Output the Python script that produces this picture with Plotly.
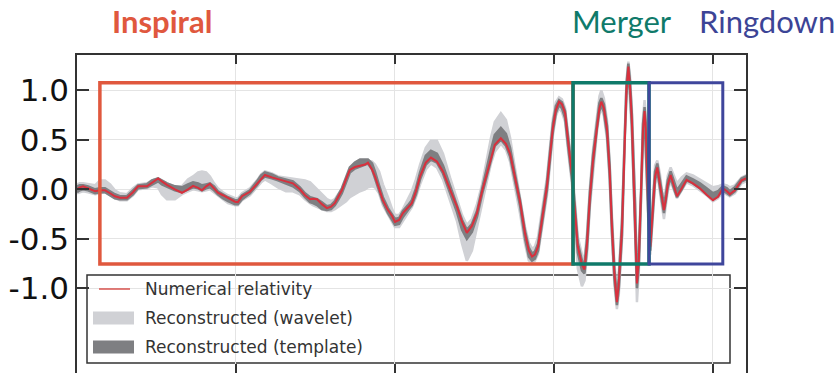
import plotly.graph_objects as go

# Time samples (s) and strain (10^-21) of the GW150914 waveform
t = [0.2500, 0.2509, 0.2519, 0.2535, 0.2557, 0.2572, 0.2588, 0.2604, 0.2619, 0.2635,
     0.2657, 0.2676, 0.2692, 0.2720, 0.2736, 0.2755, 0.2767, 0.2783, 0.2808, 0.2830,
     0.2849, 0.2865, 0.2881, 0.2893, 0.2906, 0.2918, 0.2931, 0.2943, 0.2959, 0.2975,
     0.2997, 0.3006, 0.3019, 0.3044, 0.3066, 0.3079, 0.3091, 0.3113, 0.3132, 0.3157,
     0.3179, 0.3201, 0.3217, 0.3233, 0.3242, 0.3255, 0.3270, 0.3286, 0.3299, 0.3311,
     0.3321, 0.3333, 0.3346, 0.3358, 0.3374, 0.3390, 0.3406, 0.3415, 0.3428, 0.3437,
     0.3450, 0.3462, 0.3478, 0.3491, 0.3500, 0.3513, 0.3525, 0.3541, 0.3553, 0.3566,
     0.3579, 0.3597, 0.3613, 0.3632, 0.3651, 0.3673, 0.3695, 0.3711, 0.3726, 0.3742,
     0.3758, 0.3774, 0.3789, 0.3802, 0.3814, 0.3833, 0.3849, 0.3862, 0.3877, 0.3893,
     0.3909, 0.3921, 0.3931, 0.3940, 0.3950, 0.3962, 0.3978, 0.3991, 0.3997, 0.4006,
     0.4016, 0.4025, 0.4035, 0.4044, 0.4057, 0.4066, 0.4075, 0.4088, 0.4096, 0.4104,
     0.4113, 0.4123, 0.4135, 0.4143, 0.4149, 0.4157, 0.4167, 0.4175, 0.4182, 0.4190,
     0.4198, 0.4204, 0.4214, 0.4223, 0.4228, 0.4234, 0.4239, 0.4245, 0.4255, 0.4261,
     0.4267, 0.4274, 0.4280, 0.4285, 0.4289, 0.4296, 0.4303, 0.4311, 0.4318, 0.4325,
     0.4333, 0.4340, 0.4346, 0.4352, 0.4358, 0.4367, 0.4375, 0.4387, 0.4402, 0.4417,
     0.4437, 0.4459, 0.4480, 0.4500, 0.4516, 0.4531, 0.4544, 0.4553, 0.4569, 0.4590,
     0.4604]

numerical_relativity = [
    0.00, 0.02, 0.03, 0.01, -0.02, -0.01, -0.01, -0.04, -0.07, -0.085,
    -0.085, -0.03, 0.03, 0.03, 0.07, 0.11, 0.08, 0.045, 0.00, -0.035,
    0.00, 0.035, 0.015, -0.01, 0.03, 0.055, 0.01, -0.035, -0.06, -0.09,
    -0.125, -0.13, -0.07, -0.025, 0.06, 0.11, 0.145, 0.12, 0.10, 0.08,
    0.06, 0.00, -0.06, -0.10, -0.095, -0.10, -0.15, -0.19, -0.175, -0.14,
    -0.08, -0.01, 0.10, 0.195, 0.225, 0.235, 0.25, 0.27, 0.20, 0.13,
    0.01, -0.11, -0.21, -0.27, -0.33, -0.31, -0.24, -0.18, -0.14, -0.02,
    0.13, 0.27, 0.32, 0.28, 0.18, 0.00, -0.175, -0.33, -0.44, -0.37,
    -0.24, -0.02, 0.16, 0.32, 0.45, 0.515, 0.46, 0.36, 0.12, -0.12,
    -0.445, -0.62, -0.68, -0.66, -0.58, -0.32, 0.03, 0.45, 0.63, 0.80,
    0.885, 0.86, 0.77, 0.50, 0.13, -0.22, -0.58, -0.76, -0.81, -0.55,
    -0.08, 0.30, 0.65, 0.82, 0.885, 0.82, 0.60, 0.20, -0.35, -0.85,
    -1.14, -0.95, -0.40, 0.63, 1.00, 1.24, 1.05, 0.70, -0.21, -0.95,
    -0.70, -0.10, 0.60, 0.79, 0.60, -0.15, -0.58, -0.20, 0.13, 0.22,
    0.06, -0.10, -0.21, -0.10, 0.05, 0.145, 0.05, -0.07, 0.01, 0.095,
    0.06, 0.01, -0.055, -0.11, -0.075, 0.01, -0.02, -0.05, -0.01, 0.09,
    0.11]

template_low = [
    -0.03, -0.01, 0.00, -0.01, -0.04, -0.03, -0.03, -0.06, -0.09, -0.10,
    -0.10, -0.05, 0.01, 0.02, 0.05, 0.08, 0.05, 0.03, -0.01, -0.03,
    0.00, 0.02, 0.01, -0.01, 0.01, 0.02, -0.01, -0.05, -0.09, -0.12,
    -0.15, -0.15, -0.10, -0.04, 0.04, 0.10, 0.13, 0.11, 0.09, 0.06,
    0.03, -0.02, -0.08, -0.13, -0.14, -0.16, -0.20, -0.21, -0.20, -0.16,
    -0.11, -0.04, 0.07, 0.17, 0.21, 0.23, 0.25, 0.26, 0.20, 0.12,
    -0.01, -0.13, -0.24, -0.31, -0.36, -0.35, -0.28, -0.21, -0.16, -0.05,
    0.10, 0.25, 0.30, 0.27, 0.16, -0.03, -0.23, -0.41, -0.50, -0.43,
    -0.28, -0.05, 0.13, 0.30, 0.44, 0.50, 0.44, 0.33, 0.09, -0.16,
    -0.50, -0.68, -0.72, -0.70, -0.62, -0.36, -0.01, 0.41, 0.59, 0.77,
    0.85, 0.82, 0.72, 0.45, 0.09, -0.27, -0.64, -0.82, -0.85, -0.60,
    -0.13, 0.25, 0.61, 0.79, 0.85, 0.78, 0.55, 0.15, -0.40, -0.90,
    -1.17, -1.00, -0.46, 0.57, 0.95, 1.19, 1.00, 0.64, -0.28, -1.00,
    -0.76, -0.16, 0.54, 0.74, 0.54, -0.21, -0.62, -0.25, 0.09, 0.19,
    0.03, -0.13, -0.24, -0.13, 0.02, 0.12, 0.03, -0.08, 0.00, 0.09,
    0.06, 0.01, -0.05, -0.10, -0.07, -0.01, -0.04, -0.06, -0.02, 0.08,
    0.10]

template_high = [
    0.03, 0.04, 0.04, 0.03, 0.00, 0.01, 0.01, -0.02, -0.05, -0.07,
    -0.07, -0.01, 0.04, 0.05, 0.09, 0.11, 0.09, 0.06, 0.03, 0.02,
    0.05, 0.07, 0.06, 0.04, 0.05, 0.06, 0.03, -0.02, -0.05, -0.08,
    -0.11, -0.11, -0.06, -0.01, 0.08, 0.14, 0.17, 0.15, 0.12, 0.10,
    0.08, 0.02, -0.04, -0.08, -0.09, -0.10, -0.13, -0.17, -0.16, -0.12,
    -0.06, 0.01, 0.12, 0.22, 0.27, 0.30, 0.30, 0.30, 0.26, 0.18,
    0.04, -0.08, -0.19, -0.25, -0.30, -0.29, -0.22, -0.16, -0.11, 0.01,
    0.17, 0.34, 0.39, 0.36, 0.24, 0.04, -0.16, -0.31, -0.41, -0.35,
    -0.22, 0.01, 0.21, 0.40, 0.55, 0.62, 0.56, 0.42, 0.16, -0.10,
    -0.42, -0.59, -0.65, -0.63, -0.55, -0.29, 0.07, 0.49, 0.67, 0.84,
    0.90, 0.88, 0.79, 0.54, 0.17, -0.18, -0.54, -0.72, -0.76, -0.50,
    -0.03, 0.35, 0.70, 0.87, 0.92, 0.86, 0.64, 0.25, -0.30, -0.80,
    -1.09, -0.90, -0.34, 0.69, 1.05, 1.27, 1.10, 0.76, -0.14, -0.90,
    -0.64, -0.04, 0.66, 0.83, 0.66, -0.09, -0.53, -0.15, 0.18, 0.26,
    0.10, -0.06, -0.16, -0.05, 0.09, 0.18, 0.10, -0.01, 0.06, 0.13,
    0.10, 0.06, 0.01, -0.04, -0.02, 0.03, 0.01, -0.02, 0.02, 0.11,
    0.13]

wavelet_low = [
    -0.04, -0.03, -0.02, -0.03, -0.05, -0.04, -0.03, -0.06, -0.09, -0.11,
    -0.11, -0.06, 0.00, 0.01, 0.03, 0.02, -0.05, -0.10, -0.10, -0.05,
    -0.02, 0.00, -0.01, -0.02, -0.01, 0.00, -0.03, -0.06, -0.10, -0.14,
    -0.16, -0.16, -0.11, -0.06, 0.02, 0.07, 0.10, 0.06, 0.02, -0.02,
    -0.02, -0.05, -0.10, -0.14, -0.16, -0.18, -0.20, -0.22, -0.22, -0.20,
    -0.18, -0.15, -0.12, -0.08, -0.05, -0.02, 0.00, 0.02, 0.03, 0.02,
    -0.04, -0.16, -0.26, -0.33, -0.38, -0.38, -0.32, -0.24, -0.18, -0.08,
    0.05, 0.20, 0.26, 0.22, 0.10, -0.10, -0.32, -0.55, -0.72, -0.62,
    -0.40, -0.14, 0.08, 0.26, 0.38, 0.46, 0.40, 0.28, 0.02, -0.24,
    -0.55, -0.72, -0.74, -0.72, -0.65, -0.40, -0.06, 0.36, 0.55, 0.74,
    0.82, 0.78, 0.68, 0.40, 0.04, -0.33, -0.80, -0.98, -0.92, -0.66,
    -0.18, 0.20, 0.57, 0.76, 0.82, 0.74, 0.50, 0.10, -0.46, -0.96,
    -1.21, -1.06, -0.52, 0.51, 0.90, 1.15, 0.95, 0.58, -0.35, -1.14,
    -0.82, -0.22, 0.48, 0.70, 0.48, -0.27, -0.66, -0.30, 0.05, 0.16,
    0.00, -0.18, -0.30, -0.18, -0.02, 0.09, 0.01, -0.09, -0.01, 0.07,
    0.04, -0.01, -0.06, -0.12, -0.09, -0.03, -0.05, -0.07, -0.04, 0.06,
    0.08]

wavelet_high = [
    0.05, 0.06, 0.06, 0.05, 0.04, 0.09, 0.09, 0.05, -0.01, -0.04,
    -0.05, 0.01, 0.05, 0.06, 0.09, 0.11, 0.09, 0.06, 0.03, 0.03,
    0.10, 0.13, 0.17, 0.18, 0.17, 0.13, 0.06, 0.01, -0.03, -0.06,
    -0.09, -0.09, -0.04, 0.01, 0.09, 0.15, 0.18, 0.16, 0.13, 0.12,
    0.11, 0.10, 0.09, 0.07, 0.04, 0.00, -0.05, -0.10, -0.12, -0.10,
    -0.05, 0.00, 0.08, 0.15, 0.22, 0.27, 0.29, 0.29, 0.28, 0.25,
    0.18, 0.05, -0.08, -0.20, -0.26, -0.26, -0.20, -0.10, -0.02, 0.10,
    0.25, 0.42, 0.49, 0.49, 0.36, 0.12, -0.10, -0.26, -0.36, -0.30,
    -0.15, 0.05, 0.30, 0.52, 0.68, 0.77, 0.70, 0.52, 0.22, -0.06,
    -0.38, -0.54, -0.60, -0.58, -0.48, -0.22, 0.12, 0.54, 0.72, 0.88,
    0.93, 0.91, 0.82, 0.58, 0.22, -0.12, -0.48, -0.66, -0.70, -0.44,
    0.02, 0.40, 0.76, 0.94, 1.00, 0.92, 0.69, 0.30, -0.24, -0.74,
    -1.04, -0.84, -0.28, 0.75, 1.10, 1.29, 1.15, 0.82, -0.07, -0.85,
    -0.58, 0.02, 0.72, 0.90, 0.72, -0.03, -0.47, -0.10, 0.24, 0.29,
    0.16, -0.02, -0.10, 0.00, 0.14, 0.22, 0.15, 0.06, 0.12, 0.16,
    0.14, 0.10, 0.06, 0.02, 0.03, 0.05, 0.04, 0.02, 0.04, 0.12,
    0.14]

# Phase boundaries (s) and box extent in strain
inspiral_span = [0.2572, 0.4060]
merger_span = [0.4060, 0.4299]
ringdown_span = [0.4299, 0.4531]
box_strain = [-0.755, 1.077]

x_ticks = [0.30, 0.35, 0.40, 0.45]
y_ticks = [-1.0, -0.5, 0.0, 0.5, 1.0]
y_tick_labels = ["-1.0", "-0.5", "0.0", "0.5", "1.0"]

legend_labels = ["Numerical relativity", "Reconstructed (wavelet)", "Reconstructed (template)"]

WAVELET_GREY = "#d0d1d5"
TEMPLATE_GREY = "#7e7f82"
NR_RED = "#d8303d"
FRAME = "#333333"


def band(lo, hi, color, name):
    return go.Scatter(
        x=t + t[::-1], y=hi + lo[::-1], fill="toself", fillcolor=color,
        mode="lines", line=dict(color=color, width=2.5), name=name,
        hoverinfo="skip", showlegend=False,
    )


fig = go.Figure()
fig.add_trace(band(wavelet_low, wavelet_high, WAVELET_GREY, legend_labels[1]))
fig.add_trace(band(template_low, template_high, TEMPLATE_GREY, legend_labels[2]))
fig.add_trace(go.Scatter(x=t, y=numerical_relativity, mode="lines",
                         line=dict(color=NR_RED, width=2), name=legend_labels[0],
                         showlegend=False))

shapes = []
# legend frame, above the grid but beneath the waveform
shapes.append(dict(type="rect", xref="paper", yref="paper",
                   x0=(87 - 77) / 669, x1=(730 - 77) / 669,
                   y0=(373 - 363) / 318, y1=(373 - 275) / 318,
                   line=dict(color=FRAME, width=1.5), fillcolor="white",
                   layer="between"))
# legend keys
shapes.append(dict(type="line", xref="paper", yref="paper",
                   x0=(99 - 77) / 669, x1=(130 - 77) / 669,
                   y0=(373 - 289) / 318, y1=(373 - 289) / 318,
                   line=dict(color="#d9534f", width=1.5), layer="above"))
for yc, col in [(318, WAVELET_GREY), (347, TEMPLATE_GREY)]:
    shapes.append(dict(type="rect", xref="paper", yref="paper",
                       x0=(93 - 77) / 669, x1=(134 - 77) / 669,
                       y0=(373 - yc - 6.5) / 318, y1=(373 - yc + 6.5) / 318,
                       line=dict(width=0), fillcolor=col, layer="above"))

# phase boxes
for span, col, w in [(inspiral_span, "#e0583e", 3.5), (merger_span, "#0f7a6a", 3.5),
                     (ringdown_span, "#3f469c", 3)]:
    shapes.append(dict(type="rect", xref="x", yref="y",
                       x0=span[0], x1=span[1], y0=box_strain[0], y1=box_strain[1],
                       line=dict(color=col, width=w), layer="above"))

annotations = []
for i, (label, yc) in enumerate(zip(legend_labels, [289, 318, 347])):
    annotations.append(dict(text=label, xref="paper", yref="paper",
                            x=(143 - 77) / 669, y=(373 - yc) / 318,
                            xanchor="left", yanchor="middle", showarrow=False,
                            font=dict(family="DejaVu Sans", size=17, color="#333333")))

for label, xc, col in [("<b>Inspiral</b>", 162, "#e0583e"), ("Merger", 622, "#0f7a6a"),
                       ("Ringdown", 767, "#3c4496")]:
    annotations.append(dict(text=label, xref="paper", yref="paper",
                            x=(xc - 77) / 669, y=(373 - 21) / 318,
                            xanchor="center", yanchor="middle", showarrow=False,
                            font=dict(family="Lato", size=31, color=col)))

fig.update_layout(
    width=840, height=373,
    margin=dict(l=77, r=94, t=55, b=0),
    paper_bgcolor="white", plot_bgcolor="white",
    showlegend=False,
    shapes=shapes, annotations=annotations,
    xaxis=dict(range=[0.25, 0.4604], tickvals=x_ticks, showticklabels=False,
               showgrid=True, gridcolor="#e4e4e4", gridwidth=1,
               showline=True, linecolor=FRAME, linewidth=1.5, mirror="ticks",
               ticks="inside", ticklen=9, tickwidth=1.5, tickcolor=FRAME,
               zeroline=False),
    yaxis=dict(range=[-1.8556, 1.3566], tickvals=y_ticks, ticktext=y_tick_labels,
               showgrid=True, gridcolor="#e4e4e4", gridwidth=1,
               showline=True, linecolor=FRAME, linewidth=1.5, mirror="ticks",
               ticks="inside", ticklen=12, tickwidth=1.5, tickcolor=FRAME,
               zeroline=False, ticklabelstandoff=0,
               tickfont=dict(family="DejaVu Sans", size=31, color="#111111")),
)

fig.write_html("out.html")
